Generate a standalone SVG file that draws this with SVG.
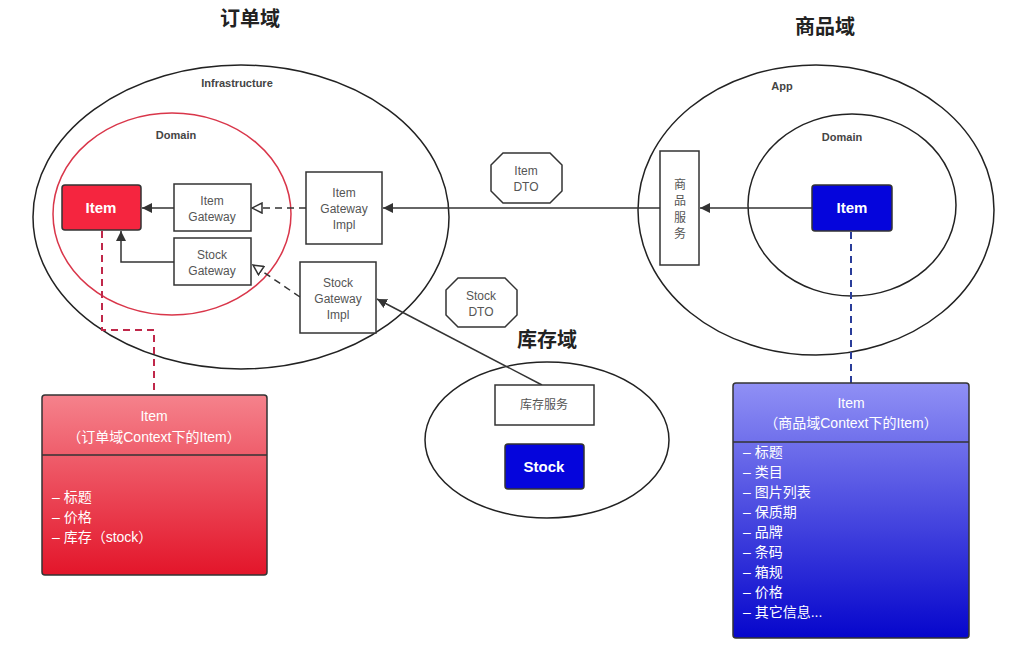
<svg xmlns="http://www.w3.org/2000/svg" width="1031" height="663" viewBox="0 0 1031 663">
<style>
text{font-family:"Liberation Sans","Noto Sans CJK SC",sans-serif;}
.title{font-size:20px;font-weight:bold;fill:#222;text-anchor:middle;}
.lbl{font-size:12px;fill:#555;text-anchor:middle;}
.hdr{font-size:11px;fill:#444;font-weight:bold;text-anchor:middle;}
.box{fill:#fff;stroke:#333;stroke-width:1.5;}
.ell{fill:none;stroke:#222;stroke-width:1.5;}
.ln{fill:none;stroke:#333;stroke-width:1.5;}
.dash{fill:none;stroke:#333;stroke-width:1.5;stroke-dasharray:7,5;}
.wt{font-size:15px;fill:#fff;text-anchor:middle;font-weight:bold;}
.ut{font-size:14px;fill:#fff;}
</style>
<defs>
<marker id="fa" viewBox="0 0 10 10" refX="10" refY="5" markerWidth="10" markerHeight="10" markerUnits="userSpaceOnUse" orient="auto"><path d="M0,0 L10,5 L0,10 Z" fill="#333"/></marker>
<marker id="oa" viewBox="0 0 12 12" refX="11" refY="6" markerWidth="12" markerHeight="12" markerUnits="userSpaceOnUse" orient="auto"><path d="M1,1 L11,6 L1,11 Z" fill="#fff" stroke="#333" stroke-width="1.5"/></marker>
<linearGradient id="rg" x1="0" y1="0" x2="0" y2="1"><stop offset="0" stop-color="#f5828c"/><stop offset="1" stop-color="#e3152a"/></linearGradient>
<linearGradient id="bg" x1="0" y1="0" x2="0" y2="1"><stop offset="0" stop-color="#9090f5"/><stop offset="1" stop-color="#0606cc"/></linearGradient>
</defs>
<rect width="1031" height="663" fill="#fff"/>

<g id="titles">
<text class="title" x="250" y="26">订单域</text>
<text class="title" x="825" y="34">商品域</text>
<text class="title" x="547" y="347">库存域</text>
</g>

<g id="order-domain">
<ellipse class="ell" cx="241" cy="217" rx="208" ry="152"/>
<text class="hdr" x="237" y="87">Infrastructure</text>
<ellipse cx="172" cy="214" rx="119" ry="101" fill="none" stroke="#d9364a" stroke-width="1.5"/>
<text class="hdr" x="176" y="139">Domain</text>
</g>

<g id="goods-domain">
<ellipse class="ell" cx="816" cy="210" rx="178" ry="145"/>
<text class="hdr" x="782" y="90">App</text>
<ellipse class="ell" cx="852" cy="205" rx="104" ry="91"/>
<text class="hdr" x="842" y="141">Domain</text>
</g>

<g id="stock-domain">
<ellipse class="ell" cx="547" cy="440" rx="122" ry="78"/>
</g>

<g id="connectors">
<line class="ln" x1="174" y1="208" x2="142" y2="208" marker-end="url(#fa)"/>
<line class="dash" x1="306" y1="208" x2="252" y2="208" marker-end="url(#oa)"/>
<polyline class="ln" points="174,262 121,262 121,231" marker-end="url(#fa)"/>
<line class="dash" x1="300" y1="297" x2="253" y2="265" marker-end="url(#oa)"/>
<line class="ln" x1="660" y1="208" x2="383" y2="208" marker-end="url(#fa)"/>
<line class="ln" x1="812" y1="208" x2="700" y2="208" marker-end="url(#fa)"/>
<line class="ln" x1="542" y1="385" x2="377" y2="299" marker-end="url(#fa)"/>
<polyline points="102,231 102,330 154,330 154,395" fill="none" stroke="#c0284a" stroke-width="2" stroke-dasharray="7,5"/>
<line x1="851" y1="232" x2="851" y2="383" stroke="#2a3d9a" stroke-width="2" stroke-dasharray="7,5"/>
</g>

<g id="item-red">
<rect x="62" y="185" width="79" height="45" rx="3" fill="#f5253f" stroke="#333" stroke-width="1.5"/>
<text class="wt" x="101" y="213">Item</text>
</g>
<g id="item-gateway">
<rect class="box" x="174" y="184" width="77" height="47"/>
<text class="lbl" x="212" y="205">Item</text>
<text class="lbl" x="212" y="221">Gateway</text>
</g>
<g id="stock-gateway">
<rect class="box" x="174" y="238" width="77" height="47"/>
<text class="lbl" x="212" y="259">Stock</text>
<text class="lbl" x="212" y="275">Gateway</text>
</g>
<g id="item-gateway-impl">
<rect class="box" x="306" y="172" width="76" height="72"/>
<text class="lbl" x="344" y="197">Item</text>
<text class="lbl" x="344" y="213">Gateway</text>
<text class="lbl" x="344" y="229">Impl</text>
</g>
<g id="stock-gateway-impl">
<rect class="box" x="300" y="262" width="76" height="71"/>
<text class="lbl" x="338" y="287">Stock</text>
<text class="lbl" x="338" y="303">Gateway</text>
<text class="lbl" x="338" y="319">Impl</text>
</g>

<g id="item-dto">
<polygon class="box" points="503,153 550,153 562,165 562,191 550,203 503,203 491,191 491,165"/>
<text class="lbl" x="526" y="175">Item</text>
<text class="lbl" x="526" y="191">DTO</text>
</g>
<g id="stock-dto">
<polygon class="box" points="458,278 505,278 517,290 517,315 505,327 458,327 446,315 446,290"/>
<text class="lbl" x="481" y="300">Stock</text>
<text class="lbl" x="481" y="316">DTO</text>
</g>

<g id="goods-service">
<rect class="box" x="660" y="151" width="39" height="114"/>
<text class="lbl" x="680" y="189">商</text>
<text class="lbl" x="680" y="205">品</text>
<text class="lbl" x="680" y="222">服</text>
<text class="lbl" x="680" y="238">务</text>
</g>
<g id="item-blue">
<rect x="812" y="185" width="80" height="46" rx="3" fill="#0505dc" stroke="#333" stroke-width="1.5"/>
<text class="wt" x="852" y="213">Item</text>
</g>

<g id="stock-service">
<rect class="box" x="495" y="385" width="99" height="40"/>
<text class="lbl" x="544" y="409">库存服务</text>
</g>
<g id="stock">
<rect x="505" y="444" width="79" height="45" rx="3" fill="#0505dc" stroke="#333" stroke-width="1.5"/>
<text class="wt" x="544" y="472">Stock</text>
</g>

<g id="uml-red">
<rect x="42" y="395" width="225" height="180" rx="3" fill="url(#rg)" stroke="#333" stroke-width="1.5"/>
<line x1="42" y1="455" x2="267" y2="455" stroke="#333" stroke-width="1.5"/>
<text class="ut" x="154" y="421" text-anchor="middle">Item</text>
<text class="ut" x="154" y="442" text-anchor="middle">（订单域Context下的Item）</text>
<text class="ut" x="52" y="502">– 标题</text>
<text class="ut" x="52" y="522">– 价格</text>
<text class="ut" x="52" y="542">– 库存（stock）</text>
</g>

<g id="uml-blue">
<rect x="733" y="383" width="236" height="255" rx="3" fill="url(#bg)" stroke="#333" stroke-width="1.5"/>
<line x1="733" y1="442" x2="969" y2="442" stroke="#333" stroke-width="1.5"/>
<text class="ut" x="851" y="408" text-anchor="middle">Item</text>
<text class="ut" x="851" y="428" text-anchor="middle">（商品域Context下的Item）</text>
<text class="ut" x="743" y="457">– 标题</text>
<text class="ut" x="743" y="477">– 类目</text>
<text class="ut" x="743" y="497">– 图片列表</text>
<text class="ut" x="743" y="517">– 保质期</text>
<text class="ut" x="743" y="537">– 品牌</text>
<text class="ut" x="743" y="557">– 条码</text>
<text class="ut" x="743" y="577">– 箱规</text>
<text class="ut" x="743" y="597">– 价格</text>
<text class="ut" x="743" y="617">– 其它信息...</text>
</g>
</svg>
